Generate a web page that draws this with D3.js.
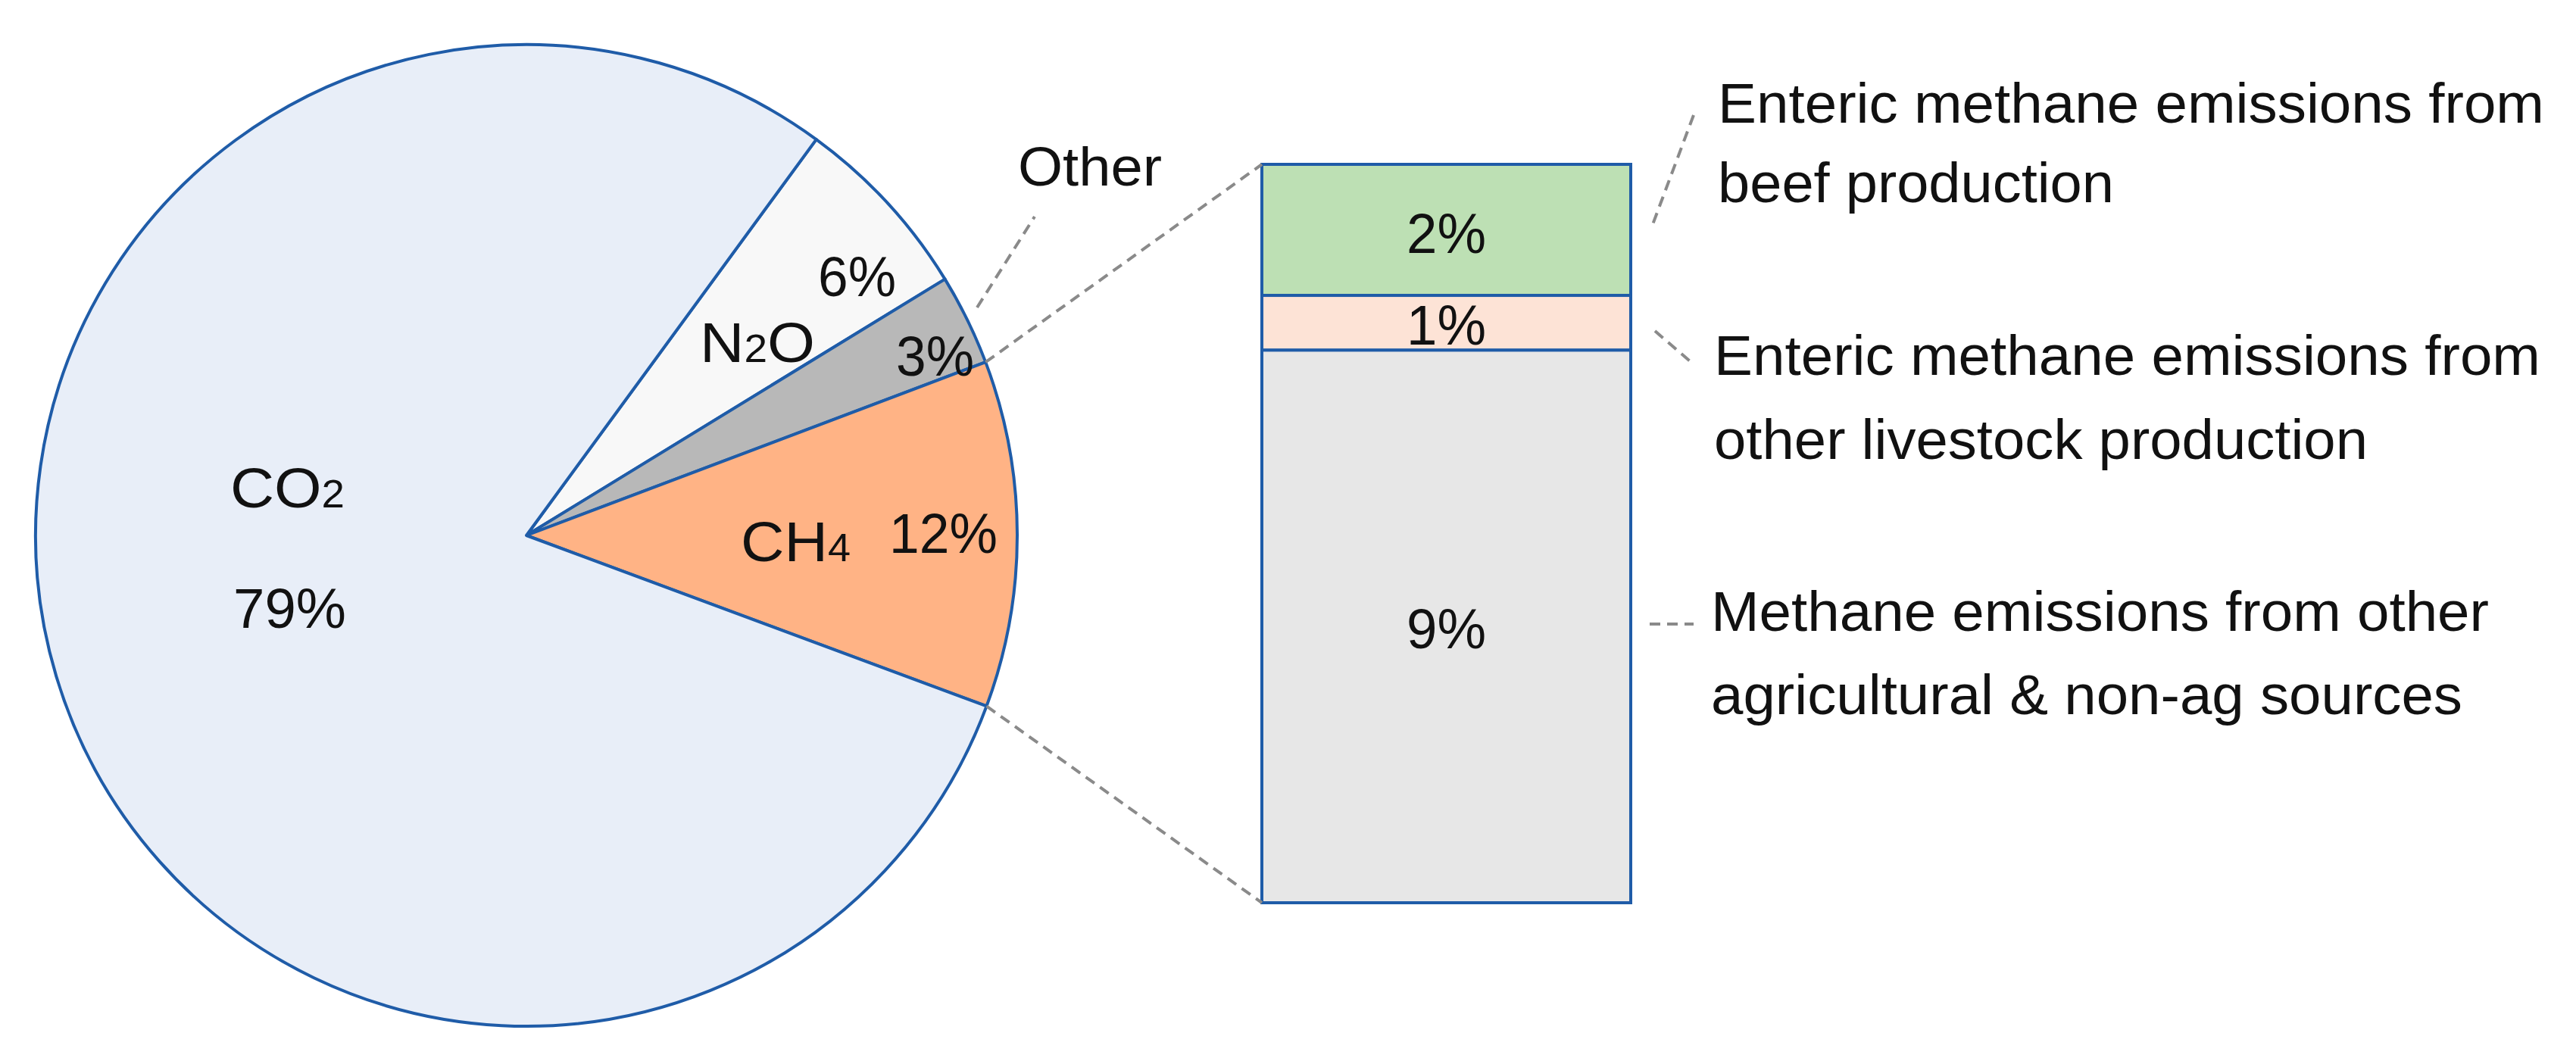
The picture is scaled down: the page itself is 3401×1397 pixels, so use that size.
<!DOCTYPE html>
<html><head><meta charset="utf-8">
<script src="https://cdn.jsdelivr.net/npm/d3@7"></script>
<style>body{margin:0;background:#fff}svg{display:block}text{font-family:"Liberation Sans",Arial,sans-serif;fill:#111}</style>
</head><body>
<script>
const gasNames = ["N2O","Other","CH4","CO2"];
const gasValues = [6.2, 3.0, 11.4, 79.4];
const gasLabels = ["6%","3%","12%","79%"];
const gasColors = ["#f8f8f8","#b8b8b8","#ffb385","#e8eef8"];
const barNames = ["Enteric methane emissions from beef production","Enteric methane emissions from other livestock production","Methane emissions from other agricultural & non-ag sources"];
const barValues = [2.13, 0.89, 8.98];
const barLabels = ["2%","1%","9%"];
const barColors = ["#bde0b4","#fde3d6","#e7e7e7"];

const W=3401,H=1397, cx=695, cy=707, R=648, stroke="#1f5ca8";
const svg=d3.select("body").append("svg").attr("width",W).attr("height",H);
const start=36.2*Math.PI/180;
const pie=d3.pie().sort(null).value(d=>d).startAngle(start).endAngle(start+2*Math.PI);
const arcs=pie(gasValues);
const arc=d3.arc().innerRadius(0).outerRadius(R);
const g=svg.append("g").attr("transform",`translate(${cx},${cy})`);
g.selectAll("path").data(arcs).join("path").attr("d",arc)
 .attr("fill",(d,i)=>gasColors[i]).attr("stroke",stroke).attr("stroke-width",4).attr("stroke-linejoin","round");
const pt=a=>[cx+R*Math.sin(a), cy-R*Math.cos(a)];

// bar
const bx0=1666,bx1=2153,by0=217,by1=1192;
const y=d3.scaleLinear().domain([0,d3.sum(barValues)]).range([by0,by1]);
let acc=0; const segs=barValues.map(v=>{const s={a:acc,b:acc+v};acc+=v;return s;});
svg.selectAll("rect.seg").data(segs).join("rect").attr("class","seg")
 .attr("x",bx0).attr("width",bx1-bx0).attr("y",d=>y(d.a)).attr("height",d=>y(d.b)-y(d.a))
 .attr("fill",(d,i)=>barColors[i]).attr("stroke",stroke).attr("stroke-width",4);
const bl=[334,455,856];
svg.selectAll("text.bl").data(barLabels).join("text").attr("class","bl")
 .attr("x",(bx0+bx1)/2).attr("y",(d,i)=>bl[i]).attr("text-anchor","middle").attr("font-size",75)
 .attr("textLength",105).attr("lengthAdjust","spacingAndGlyphs").text(d=>d);

// leader lines
const dash={stroke:"#8a8a8a","stroke-width":4,"stroke-dasharray":"14,9",fill:"none"};
function line(x1,y1,x2,y2){const l=svg.append("line").attr("x1",x1).attr("y1",y1).attr("x2",x2).attr("y2",y2);for(const k in dash)l.attr(k,dash[k]);}
const pTop=pt(arcs[2].startAngle), pBot=pt(arcs[2].endAngle);
line(pTop[0],pTop[1],bx0,by0); line(pBot[0],pBot[1],bx0,by1);
line(1290,406,1366,286);
line(2236,152,2181,299); line(2185,437,2236,481); line(2178,824,2236,824);

// pie labels
function lab(txt,x,yb,size,sub,len){
  const t=svg.append("text").attr("x",x).attr("y",yb).attr("font-size",size);
  if(sub){t.append("tspan").text(sub[0]);t.append("tspan").attr("font-size",size*0.68).text(sub[1]);t.append("tspan").text(sub[2]);}
  else t.text(txt);
  if(len) t.attr("textLength",len).attr("lengthAdjust","spacingAndGlyphs");
}
lab("",304,670,75,["CO","2",""],151);
lab("79%",308,829,75,null,149);
lab("",924,478,75,["N","2","O"],152);
lab("6%",1080,391,75,null,103);
lab("3%",1183,496,75,null,103);
lab("",978,741,75,["CH","4",""],145);
lab("12%",1174,730,75,null,143);
lab("Other",1344,245,73,null,190);

// right labels
const rl=[["Enteric methane emissions from",2268,162,1091],["beef production",2268,267,523],
 ["Enteric methane emissions from",2263,495,1091],["other livestock production",2263,606,863],
 ["Methane emissions from other",2259,833,1027],["agricultural & non-ag sources",2259,943,992]];
rl.forEach(r=>svg.append("text").attr("x",r[1]).attr("y",r[2]).attr("font-size",75)
 .attr("textLength",r[3]).attr("lengthAdjust","spacingAndGlyphs").text(r[0]));
</script>
</body></html>
